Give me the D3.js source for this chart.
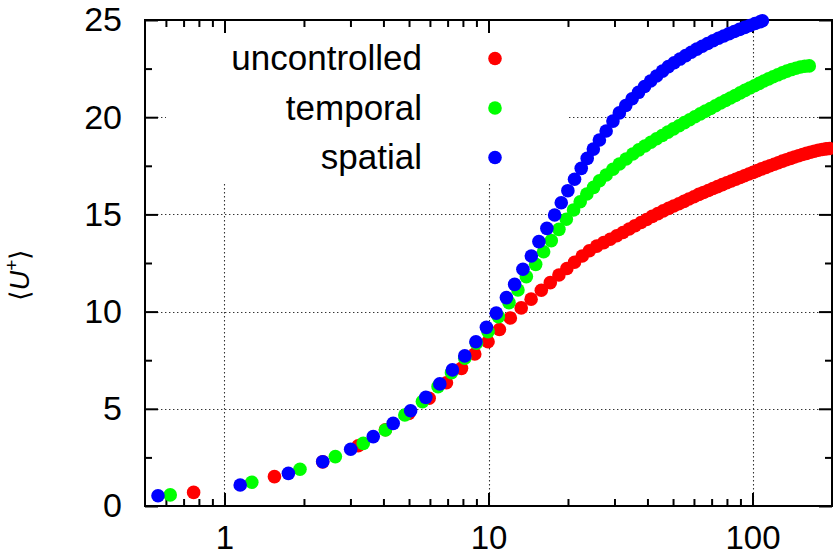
<!DOCTYPE html>
<html>
<head>
<meta charset="utf-8">
<script src="https://cdn.jsdelivr.net/npm/d3@7/dist/d3.min.js"></script>
<style>
  html, body { margin: 0; padding: 0; background: #fff; }
  svg { display: block; font-family: "Liberation Sans", Arial, Helvetica, sans-serif; }
</style>
</head>
<body>
<svg id="chart" width="833" height="557"></svg>
<script>
// Mean streamwise velocity profiles <U+> against wall distance y+ (log scale)

const seriesNames = ["uncontrolled", "temporal", "spatial"];
const seriesColors = ["#ff0000", "#00ff00", "#0000ff"];

// uncontrolled channel
const uncontrolledY = [0.764, 1.546, 2.355, 3.21, 4.07, 4.99, 5.96, 6.93, 7.90, 8.87, 9.96, 11.0, 12.1, 13.3, 14.5, 15.85, 17.14, 18.48, 19.81, 21.18, 22.65, 24.1,
  25.7, 27.3, 28.9, 30.6, 32.3, 34.1, 35.9, 37.8, 39.7, 41.7, 43.8, 45.9, 48.1, 50.3, 52.6, 55.0, 57.4, 60.0, 62.6, 65.2, 68.0, 70.8, 73.7, 76.8, 79.9,
  83.1, 86.4, 89.7, 93.2, 96.8, 100.5, 104.3, 108.2, 112.3, 116.5, 120.8, 125.2, 129.8, 134.4, 139.3, 144.2, 149.4, 154.6, 160.1, 165.7, 171.4, 177.4,
  183.5, 189.8, 195.5];
const uncontrolledU = [0.70, 1.51, 2.27, 3.10, 3.92, 4.76, 5.54, 6.34, 7.08, 7.82, 8.45, 9.08, 9.67, 10.19, 10.64, 11.10, 11.49, 11.88, 12.22, 12.54, 12.86, 13.13,
  13.37, 13.55, 13.72, 13.90, 14.07, 14.25, 14.42, 14.58, 14.74, 14.90, 15.04, 15.18, 15.31, 15.43, 15.55, 15.67, 15.79, 15.91, 16.03, 16.13, 16.23, 16.33,
  16.43, 16.53, 16.63, 16.72, 16.81, 16.90, 16.99, 17.08, 17.16, 17.25, 17.34, 17.42, 17.50, 17.58, 17.66, 17.74, 17.81, 17.88, 17.95, 18.02, 18.08, 18.14,
  18.20, 18.25, 18.30, 18.34, 18.37, 18.39];

// temporal wall oscillation
const temporalY = [0.623, 1.269, 1.932, 2.63, 3.355, 4.07, 4.82, 5.62, 6.44, 7.24, 8.13, 9.00, 9.96, 10.9, 11.96, 12.93, 13.91, 15.09, 16.17, 17.29, 18.48,
  19.71, 21.0, 22.25, 23.57, 25.0, 26.33, 27.9, 29.6, 31.3, 33.2, 35.2, 37.1, 39.1, 41.2, 43.3, 45.5, 47.8, 50.2, 52.7, 55.2, 57.8, 60.5, 63.4, 66.3,
  69.3, 72.4, 75.7, 79.0, 82.5, 86.1, 89.8, 93.6, 97.6, 101.7, 106.0, 110.4, 115.0, 119.7, 124.6, 129.7, 134.9, 140.3, 145.9, 151.8, 157.8, 164.0];
const temporalU = [0.57, 1.22, 1.89, 2.54, 3.22, 3.91, 4.68, 5.37, 6.14, 6.86, 7.60, 8.37, 8.97, 9.74, 10.46, 11.11, 11.80, 12.43, 13.08, 13.65, 14.23,
  14.75, 15.23, 15.65, 16.05, 16.39, 16.73, 17.03, 17.32, 17.59, 17.85, 18.11, 18.32, 18.52, 18.71, 18.89, 19.06, 19.23, 19.40, 19.56, 19.72, 19.87,
  20.02, 20.17, 20.31, 20.45, 20.59, 20.73, 20.86, 20.99, 21.12, 21.25, 21.38, 21.50, 21.62, 21.74, 21.86, 21.97, 22.08, 22.18, 22.28, 22.37, 22.45,
  22.52, 22.58, 22.62, 22.64];

// spatial wall forcing
const spatialY = [0.560, 1.147, 1.746, 2.355, 3.006, 3.66, 4.355, 5.07, 5.79, 6.54, 7.30, 8.13, 8.96, 9.82, 10.70, 11.69, 12.56, 13.50, 14.53, 15.52,
  16.64, 17.80, 18.86, 19.98, 21.18, 22.45, 23.65, 24.95, 26.3, 27.9, 29.6, 31.3, 33.1, 35.0, 37.0, 39.0, 41.1, 43.3, 45.6, 48.0, 50.5, 53.1, 55.8,
  58.6, 61.5, 64.5, 67.6, 70.9, 74.3, 77.8, 81.5, 85.3, 89.3, 93.4, 97.7, 102.2, 106.8, 109.0];
const spatialU = [0.53, 1.08, 1.68, 2.28, 2.92, 3.57, 4.25, 4.90, 5.59, 6.28, 7.00, 7.72, 8.45, 9.19, 9.92, 10.72, 11.40, 12.18, 12.86, 13.60, 14.28,
  14.97, 15.60, 16.22, 16.81, 17.37, 17.88, 18.36, 18.83, 19.29, 19.80, 20.22, 20.60, 20.95, 21.28, 21.58, 21.86, 22.12, 22.37, 22.60, 22.80, 22.99,
  23.17, 23.34, 23.50, 23.65, 23.79, 23.93, 24.06, 24.18, 24.30, 24.41, 24.52, 24.62, 24.72, 24.82, 24.91, 24.96];

// axis ticks
const xMajorTicks = [1, 10, 100];
const xMinorTicks = [0.6, 0.7, 0.8, 0.9, 2, 3, 4, 5, 6, 7, 8, 9, 20, 30, 40, 50, 60, 70, 80, 90];
const yMajorTicks = [0, 5, 10, 15, 20, 25];
const yMinorTicks = [2.5, 7.5, 12.5, 17.5, 22.5];
const xDomain = [0.5, 200];
const yDomain = [0, 25];

const plot = { left: 145, right: 832, top: 20, bottom: 506 };
const svg = d3.select("#chart");

const x = d3.scaleLog().domain(xDomain).range([plot.left, plot.right]);
const y = d3.scaleLinear().domain(yDomain).range([plot.bottom, plot.top]);

// dotted grid at major ticks
const grid = svg.append("g")
  .attr("stroke", "#333").attr("stroke-width", 1.1).attr("stroke-dasharray", "1.4,2.6");
grid.selectAll("line.gx").data(xMajorTicks).join("line")
  .attr("x1", d => Math.round(x(d)) + 0.5).attr("x2", d => Math.round(x(d)) + 0.5)
  .attr("y1", plot.top).attr("y2", plot.bottom);
grid.selectAll("line.gy").data(yMajorTicks.filter(d => d > 0 && d < 25)).join("line")
  .attr("y1", d => Math.round(y(d)) + 0.5).attr("y2", d => Math.round(y(d)) + 0.5)
  .attr("x1", plot.left).attr("x2", plot.right);

// opaque key area
svg.append("rect")
  .attr("x", 166).attr("y", plot.top + 1).attr("width", 401).attr("height", 162)
  .attr("fill", "#fff");

// axes with inward ticks, mirrored on top and right
function styleAxis(g, size) {
  g.select(".domain").remove();
  g.selectAll(".tick line").attr("stroke", "#000").attr("stroke-width", 2);
  g.selectAll("text").attr("fill", "#000").attr("font-size", size || 34)
    .attr("font-family", "'Liberation Sans', Arial, sans-serif");
}
const fmt = d3.format("d");
svg.append("g").attr("transform", `translate(0,${plot.bottom})`)
  .call(d3.axisBottom(x).tickValues(xMajorTicks).tickSize(-13).tickPadding(20).tickFormat(fmt))
  .call(styleAxis, 33);
svg.append("g").attr("transform", `translate(0,${plot.bottom})`)
  .call(d3.axisBottom(x).tickValues(xMinorTicks).tickSize(-7).tickFormat(""))
  .call(styleAxis);
svg.append("g").attr("transform", `translate(0,${plot.top})`)
  .call(d3.axisTop(x).tickValues(xMajorTicks).tickSize(-13).tickFormat(""))
  .call(styleAxis);
svg.append("g").attr("transform", `translate(0,${plot.top})`)
  .call(d3.axisTop(x).tickValues(xMinorTicks).tickSize(-7).tickFormat(""))
  .call(styleAxis);
svg.append("g").attr("transform", `translate(${plot.left},0)`)
  .call(d3.axisLeft(y).tickValues(yMajorTicks).tickSize(-13).tickPadding(23).tickFormat(fmt))
  .call(styleAxis, 34);
svg.append("g").attr("transform", `translate(${plot.left},0)`)
  .call(d3.axisLeft(y).tickValues(yMinorTicks).tickSize(-7).tickFormat(""))
  .call(styleAxis);
svg.append("g").attr("transform", `translate(${plot.right},0)`)
  .call(d3.axisRight(y).tickValues(yMajorTicks).tickSize(-13).tickFormat(""))
  .call(styleAxis);
svg.append("g").attr("transform", `translate(${plot.right},0)`)
  .call(d3.axisRight(y).tickValues(yMinorTicks).tickSize(-7).tickFormat(""))
  .call(styleAxis);

// plot border
svg.append("rect")
  .attr("x", plot.left).attr("y", plot.top)
  .attr("width", plot.right - plot.left).attr("height", plot.bottom - plot.top)
  .attr("fill", "none").attr("stroke", "#000").attr("stroke-width", 2);

// data points
const series = [
  { xs: uncontrolledY, us: uncontrolledU },
  { xs: temporalY, us: temporalU },
  { xs: spatialY, us: spatialU }
];
const r = 6.8;
series.forEach((s, i) => {
  svg.append("g").attr("fill", seriesColors[i])
    .selectAll("circle").data(d3.zip(s.xs, s.us)).join("circle")
    .attr("cx", d => x(d[0])).attr("cy", d => y(d[1])).attr("r", r);
});

// key
const key = svg.append("g");
seriesNames.forEach((name, i) => {
  const base = 70 + i * 49.5;
  key.append("text").attr("x", 422).attr("y", base)
    .attr("text-anchor", "end").attr("font-size", 35).attr("fill", "#000")
    .text(name);
  key.append("circle").attr("cx", 495).attr("cy", base - 11.5).attr("r", r)
    .attr("fill", seriesColors[i]);
});

// y-axis title
const yt = svg.append("text")
  .attr("transform", "translate(29,275) rotate(-90)")
  .attr("text-anchor", "middle").attr("font-size", 27).attr("fill", "#000");
yt.append("tspan").attr("font-family", "'DejaVu Sans', sans-serif").attr("font-weight", 200).text("\u27E8");
yt.append("tspan").attr("font-style", "italic").text("U");
yt.append("tspan").attr("font-size", 19).attr("dy", -11).text("+");
yt.append("tspan").attr("dy", 11).attr("font-family", "'DejaVu Sans', sans-serif").attr("font-weight", 200).text("\u27E9");
</script>
</body>
</html>
